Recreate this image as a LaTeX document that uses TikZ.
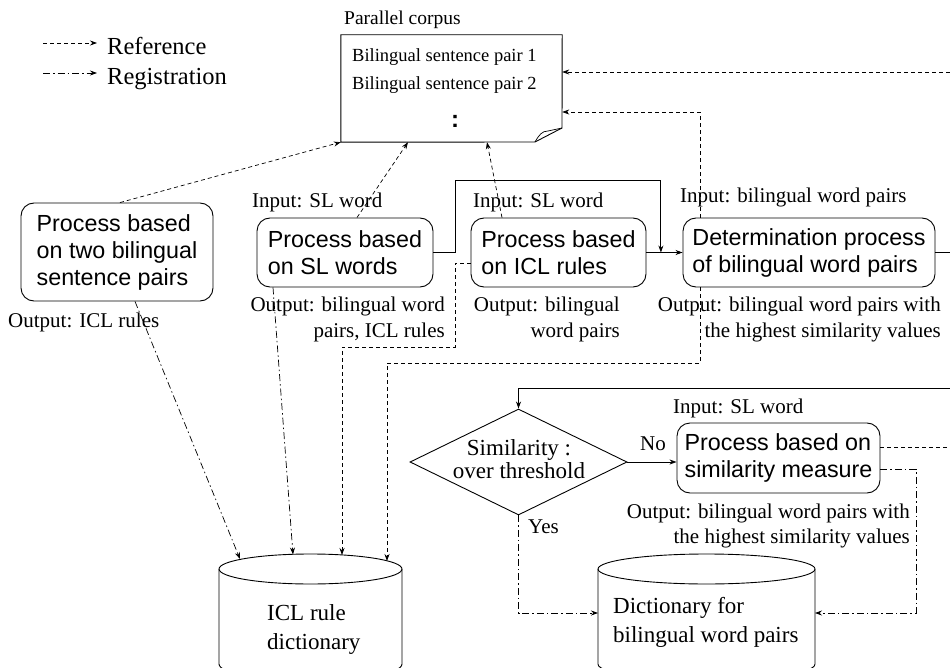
\documentclass[tikz,border=0pt]{standalone}
\usepackage{fontspec}
\setmainfont{Liberation Serif}
\newfontfamily\sansf{Liberation Sans}
\usetikzlibrary{arrows.meta,shapes.geometric,calc}
\begin{document}
\begin{tikzpicture}[x=1pt,y=-1pt,
  tip/.style={-{Stealth[length=7pt,width=5pt]}},
  refline/.style={tip, line width=0.7pt, dash pattern=on 4pt off 3pt},
  regline/.style={tip, line width=0.7pt, dash pattern=on 7pt off 3pt on 1.5pt off 3pt},
  flow/.style={tip, line width=0.8pt},
  shapeline/.style={line width=0.9pt},
  proc/.style={draw, line width=0.9pt, rounded corners=13pt, inner sep=0pt, font=\sansf\fontsize{23.3}{27}\selectfont, align=left},
  lbl/.style={font=\fontsize{21}{25}\selectfont, inner sep=0pt},
  biglbl/.style={font=\fontsize{23}{29}\selectfont, inner sep=0pt, align=left},
]
\useasboundingbox (0,0) rectangle (950,668);

% legend
\coordinate (la1) at (43,43); \coordinate (la2) at (97,43);
\coordinate (lb1) at (43,73); \coordinate (lb2) at (97,73);
\draw[refline] (la1) -- (la2);
\draw[regline] (lb1) -- (lb2);
\node[inner sep=0pt, font=\fontsize{24.5}{28}\selectfont, anchor=base west] (legref) at (107,55) {Reference};
\node[inner sep=0pt, font=\fontsize{24.5}{28}\selectfont, anchor=base west] (legreg) at (107,85) {Registration};

% parallel corpus
\node[minimum width=221pt, minimum height=107pt, inner sep=0pt] (corpus) at (451.5,88.5) {};
\draw[shapeline] (corpus.north west) -- (corpus.north east) -- (562,128) -- (535,142) -- (corpus.south west) -- cycle;
\draw[line width=0.7pt] (535,142) .. controls (539,135) and (542,131) .. (548,131) -- (562,128);
\node[inner sep=0pt, font=\fontsize{19.5}{22}\selectfont, anchor=base west] (ctitle) at (344,25) {Parallel corpus};
\node[inner sep=0pt, font=\fontsize{18.5}{22}\selectfont, anchor=base west] (pair1) at (352,62) {Bilingual sentence pair 1};
\node[inner sep=0pt, font=\fontsize{18.5}{22}\selectfont, anchor=base west] (pair2) at (352,90) {Bilingual sentence pair 2};
\node[inner sep=0pt, font=\sansf\bfseries\fontsize{24}{24}\selectfont] (dots) at (455,121) {:};

% process boxes
\node[proc, minimum width=192pt, minimum height=98pt] (A) at (117,252) {Process based\\on two bilingual\\sentence pairs};
\node[proc, minimum width=176pt, minimum height=69pt] (B) at (345,252.5) {Process based\\on SL words};
\node[proc, minimum width=175pt, minimum height=69pt] (C) at (558.5,252.5) {Process based\\on ICL rules};
\node[proc, minimum width=252pt, minimum height=69pt] (D) at (809,252.5) {Determination process\\of bilingual word pairs};
\node[proc, minimum width=203pt, minimum height=70pt] (E) at (778.5,458) {Process based on\\similarity measure};

% labels
\node[lbl, anchor=base west] (Bin) at (252,208) {Input: SL word};
\node[lbl, anchor=base west] (Cin) at (473,208) {Input: SL word};
\node[lbl, anchor=base west] (Din) at (680,203) {Input: bilingual word pairs};
\node[lbl, anchor=base west] (Ein) at (673,413) {Input: SL word};
\node[lbl, anchor=base west] (Aout) at (8,327) {Output: ICL rules};
\node[lbl, anchor=base east, align=right] (Bout) at (445,337) {Output: bilingual word\\pairs, ICL rules};
\node[lbl, anchor=base east, align=right] (Cout) at (620,337) {Output: bilingual\\word pairs};
\node[lbl, anchor=base east, align=right] (Dout) at (941,337) {Output: bilingual word pairs with\\the highest similarity values};
\node[lbl, anchor=base east, align=right] (Eout) at (910,543) {Output: bilingual word pairs with\\the highest similarity values};

% diamond
\node[diamond, draw, line width=0.9pt, minimum width=217pt, minimum height=106pt, inner sep=0pt] (dia) at (518.5,462) {};
\node[inner sep=0pt, font=\fontsize{23}{23}\selectfont, align=center] (diat) at (519,459) {Similarity :\\over threshold};
\node[lbl, anchor=base west] (no) at (640,450) {No};
\node[lbl, anchor=base west] (yes) at (528,533) {Yes};

% cylinder 1
\node[minimum width=183pt, minimum height=114pt, inner sep=0pt] (dict1) at (310.5,611) {};
\draw[shapeline] (219,569) -- (219,664) .. controls (219,684) and (402,684) .. (402,664) -- (402,569);
\draw[shapeline] (310.5,569) ellipse [x radius=91.5pt, y radius=15pt];
\node[biglbl, anchor=base west] (dict1t) at (267,649) {ICL rule\\dictionary};

% cylinder 2
\node[minimum width=217pt, minimum height=114pt, inner sep=0pt] (dict2) at (706.5,611) {};
\draw[shapeline] (598,569) -- (598,664) .. controls (598,684) and (815,684) .. (815,664) -- (815,569);
\draw[shapeline] (706.5,569) ellipse [x radius=108.5pt, y radius=15pt];
\node[biglbl, anchor=base west] (dict2t) at (613,642) {Dictionary for\\bilingual word pairs};

% coordinates
\coordinate (cd) at ($(C.east)!0.4!(D.west)$);
\coordinate (off1) at (955,447);
\coordinate (off2) at (955,72);
\coordinate (off3) at (955,388);
\coordinate (d1a) at (240,559);
\coordinate (d1b) at (293,554.5);
\coordinate (d1c) at (342,555);
\coordinate (d1d) at (387,561);
\coordinate (cL) at (455,347);
\coordinate (dL) at (387,363);
\coordinate (d2a) at (598,613);
\coordinate (d2b) at (815,613);
\coordinate (eR) at (916,613);

% reference connectors
\draw[refline] ([xshift=3pt]A.north) -- (corpus.south west);
\draw[refline] ([xshift=12pt]B.north) -- ([xshift=-43.5pt]corpus.south);
\draw[refline] ([xshift=-56.5pt]C.north) -- ([xshift=35.5pt]corpus.south);
\draw[refline] ([xshift=-109pt]D.north) |- ([yshift=-23.5pt]corpus.east);
\draw[refline] ([yshift=11pt]E.east) -- (off1) -- (off2) -- ([yshift=16.5pt]corpus.east);
\draw[refline] ([yshift=-10.5pt]C.west) -| (cL) -| (d1c);
\draw[refline] ([xshift=-109pt]D.south) |- (dL) -- (d1d);

% registration connectors
\draw[regline] ([xshift=18pt]A.south) -- (d1a);
\draw[regline] ([xshift=-72pt]B.south) -- (d1b);
\draw[regline] (dia.south) |- (d2a);
\draw[regline] ([yshift=-11pt]E.east) -| (eR) -- (d2b);

% flow
\draw[flow] (B.east) -- ++(22pt,0pt) -- ++(0pt,72.5pt) -| (cd);
\draw[flow] (C.east) -- (D.west);
\draw[flow] (D.east) -| (off3) -| (dia.north);
\draw[flow] (dia.east) -- (dia.east -| E.west);
\end{tikzpicture}
\end{document}
